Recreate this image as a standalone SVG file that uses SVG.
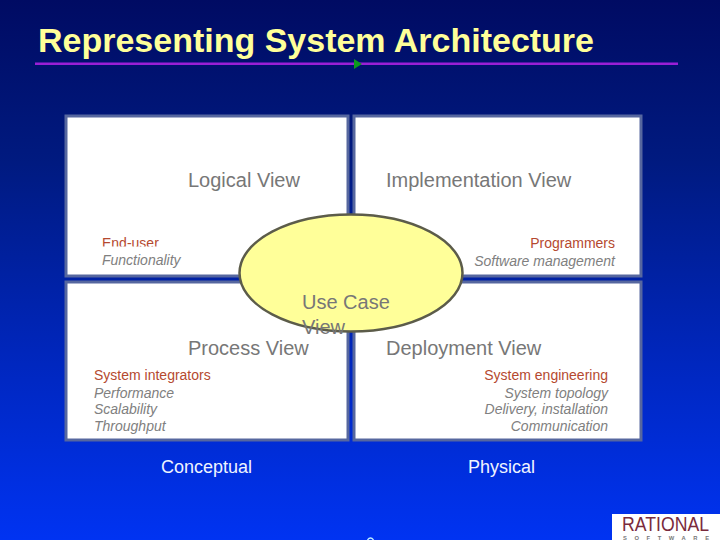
<svg xmlns="http://www.w3.org/2000/svg" width="720" height="540" viewBox="0 0 720 540">
<style>
text{font-family:"Liberation Sans",Arial,sans-serif}
.panel{fill:#fff;stroke:#56679f;stroke-width:3}
.view{font-size:20px;fill:#777}
.role{font-size:14px;fill:#b5492f}
.topic{font-size:14px;fill:#808080;font-style:italic}
.end{text-anchor:end}
.foot{font-size:18px;fill:#eef4ff}
</style>
<defs>
<linearGradient id="bg" x1="0" y1="0" x2="0" y2="1">
<stop offset="0" stop-color="#000b63"/>
<stop offset="0.3" stop-color="#001a80"/>
<stop offset="0.65" stop-color="#0026bb"/>
<stop offset="1" stop-color="#0033f2"/>
</linearGradient>
<clipPath id="cutEndUser"><rect x="90" y="230" width="100" height="16.6"/></clipPath>
</defs>
<rect width="720" height="540" fill="url(#bg)"/>
<text x="38" y="52" font-size="34" font-weight="700" fill="#ffff99" textLength="556" lengthAdjust="spacingAndGlyphs">Representing System Architecture</text>
<rect x="35" y="62.5" width="643" height="2.5" fill="#9a1fd6"/>
<polygon points="354,59 362,64 354,69" fill="#0c9a1c"/>
<g id="logical-view">
<rect class="panel" x="66" y="116" width="282" height="160"/>
<text class="view" x="188" y="187">Logical View</text>
<text class="role" x="102" y="248" clip-path="url(#cutEndUser)">End-user</text>
<text class="topic" x="102" y="265">Functionality</text>
</g>
<g id="implementation-view">
<rect class="panel" x="354" y="116" width="287" height="160"/>
<text class="view" x="386" y="187">Implementation View</text>
<text class="role end" x="615" y="248">Programmers</text>
<text class="topic end" x="615" y="266">Software management</text>
</g>
<g id="process-view">
<rect class="panel" x="66" y="282" width="282" height="158"/>
<text class="view" x="188" y="355">Process View</text>
<text class="role" x="94" y="380">System integrators</text>
<text class="topic" x="94" y="398">Performance</text>
<text class="topic" x="94" y="414">Scalability</text>
<text class="topic" x="94" y="431">Throughput</text>
</g>
<g id="deployment-view">
<rect class="panel" x="354" y="282" width="287" height="158"/>
<text class="view" x="386" y="355">Deployment View</text>
<text class="role end" x="608" y="380">System engineering</text>
<text class="topic end" x="608" y="398">System topology</text>
<text class="topic end" x="608" y="414">Delivery, installation</text>
<text class="topic end" x="608" y="431">Communication</text>
</g>
<g id="use-case-view">
<ellipse cx="351" cy="273" rx="111.500" ry="58.500" fill="#ffff99" stroke="#5c5c4a" stroke-width="2.500"/>
<text class="view" x="302" y="309">Use Case</text>
<text class="view" x="302" y="334">View</text>
</g>
<g id="labels">
<text class="foot" x="161" y="473">Conceptual</text>
<text class="foot" x="468" y="473">Physical</text>
</g>
<path d="M367.500 540Q370.500 536 373.500 540" fill="none" stroke="#bfefff" stroke-width="1.300"/>
<g id="logo">
<rect x="612" y="514" width="108" height="26" fill="#fff"/>
<text x="622" y="531" font-size="19.500" fill="#7a2a3c" textLength="87" lengthAdjust="spacingAndGlyphs">RATIONAL</text>
<text x="623" y="539.800" font-size="5.800" font-weight="700" fill="#777" textLength="86">SOFTWARE</text>
</g>
</svg>
